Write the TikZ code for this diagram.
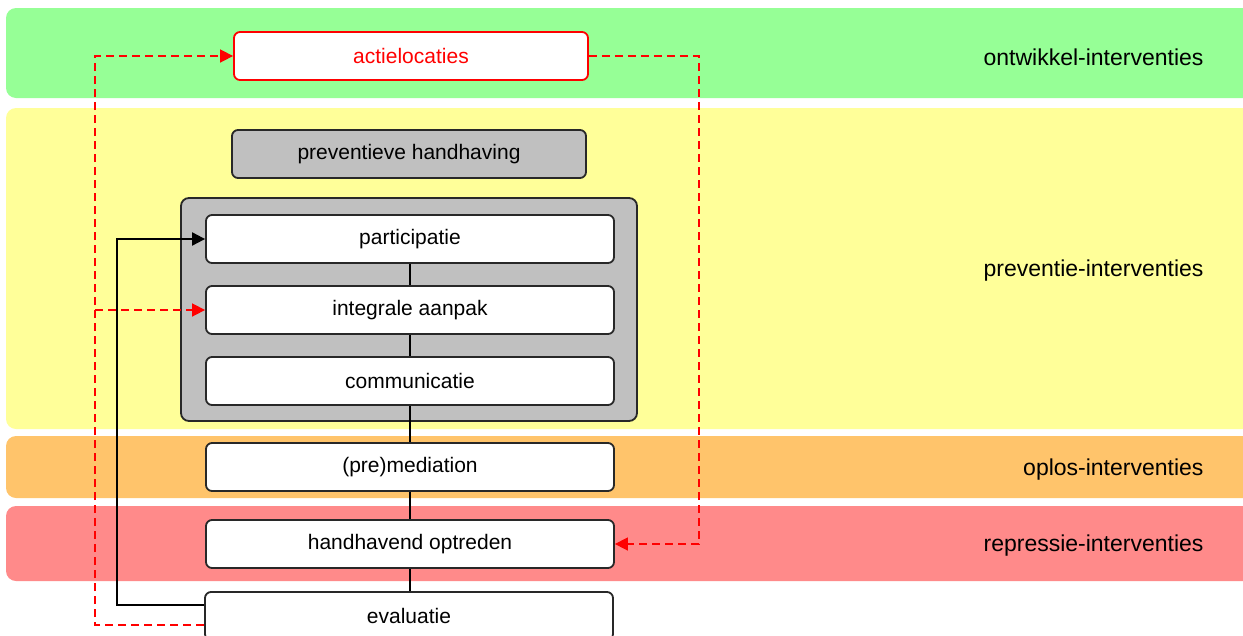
\documentclass[tikz,border=0pt]{standalone}
\usepackage{fontspec}
\setmainfont{Liberation Sans}
\usetikzlibrary{arrows.meta}
\definecolor{bgreen}{RGB}{150,255,150}
\definecolor{byellow}{RGB}{255,255,153}
\definecolor{borange}{RGB}{255,196,107}
\definecolor{bred}{RGB}{255,138,138}
\definecolor{boxgray}{RGB}{192,192,192}
\definecolor{edgegray}{RGB}{40,40,40}
\definecolor{lred}{RGB}{255,0,0}
\tikzset{
  band/.style={rounded corners=10pt},
  bandlabel/.style={anchor=east, font=\fontsize{23}{27}\selectfont},
  item/.style={draw=edgegray, line width=1.8pt, fill=white, rounded corners=6pt,
    minimum width=408pt, minimum height=48pt, inner sep=0pt, font=\fontsize{21}{25}\selectfont},
  grayitem/.style={item, fill=boxgray, minimum width=354pt},
  reditem/.style={item, draw=lred, text=lred, minimum width=354pt},
  container/.style={draw=edgegray, line width=1.8pt, fill=boxgray, rounded corners=8pt},
  conn/.style={draw=black, line width=2pt},
  redconn/.style={draw=lred, line width=1.6pt, dash pattern=on 8pt off 5pt},
  tip/.style={-{Triangle[length=13pt,width=13pt]}}
}
\begin{document}
\begin{tikzpicture}[x=1pt,y=-1pt]
\useasboundingbox (0,0) rectangle (1243,635);
\clip (0,0) rectangle (1243,635);
% bands
\fill[bgreen,band] (6,8) rectangle (1270,98);
\fill[byellow,band] (6,108) rectangle (1270,429);
\fill[borange,band] (6,436) rectangle (1270,498);
\fill[bred,band] (6,506) rectangle (1270,581);
\node[bandlabel] (l1) at (1207,57) {ontwikkel-interventies};
\node[bandlabel] (l2) at (1207,271) {preventie-interventies};
\node[bandlabel] (l3) at (1207,470) {oplos-interventies};
\node[bandlabel] (l4) at (1207,546) {repressie-interventies};
% container
\draw[container] (181,198) rectangle (637,421);
% boxes
\node[reditem] (act) at (411,56) {actielocaties};
\node[grayitem] (prev) at (409,154) {preventieve handhaving};
\node[item] (part) at (410,239) {participatie};
\node[item] (integ) at (410,310) {integrale aanpak};
\node[item] (comm) at (410,381) {communicatie};
\node[item] (med) at (410,467) {(pre)mediation};
\node[item] (hand) at (410,544) {handhavend optreden};
\node[item] (ev) at (409,616) {evaluatie};
% vertical connectors
\draw[conn] (part) -- (integ);
\draw[conn] (integ) -- (comm);
\draw[conn] (comm) -- (med);
\draw[conn] (med) -- (hand);
\draw[conn] (hand.south) -- (hand.south |- ev.north);
% feedback
\draw[conn,tip] ([yshift=11pt]ev.west) -- ++(-87,0) |- (part.west);
\draw[redconn,tip] ([yshift=-9pt]ev.west) -- ++(-109,0) coordinate (rl) |- (act.west);
\draw[redconn,tip] (rl |- integ.west) -- (integ.west);
\draw[redconn,tip] (act.east) -- ++(110,0) |- (hand.east);
\end{tikzpicture}
\end{document}
